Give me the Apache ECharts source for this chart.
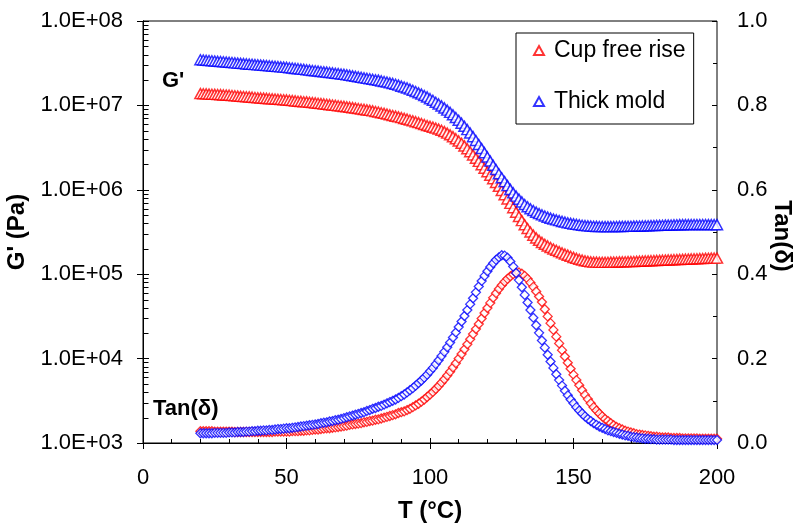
<!DOCTYPE html>
<html>
<head>
<meta charset="utf-8">
<script src="https://cdn.jsdelivr.net/npm/echarts@6/dist/echarts.min.js"></script>
<style>html,body{margin:0;padding:0;background:#fff}#c{width:798px;height:524px}</style>
</head>
<body>
<div id="c"></div>
<script>
// Temperature (°C)
const T = [
20,21,22,23,24,25,26,27,28,29,
30,31,32,33,34,35,36,37,38,39,
40,41,42,43,44,45,46,47,48,49,
50,51,52,53,54,55,56,57,58,59,
60,61,62,63,64,65,66,67,68,69,
70,71,72,73,74,75,76,77,78,79,
80,81,82,83,84,85,86,87,88,89,
90,91,92,93,94,95,96,97,98,99,
100,101,102,103,104,105,106,107,108,109,
110,111,112,113,114,115,116,117,118,119,
120,121,122,123,124,125,126,127,128,129,
130,131,132,133,134,135,136,137,138,139,
140,141,142,143,144,145,146,147,148,149,
150,151,152,153,154,155,156,157,158,159,
160,161,162,163,164,165,166,167,168,169,
170,171,172,173,174,175,176,177,178,179,
180,181,182,183,184,185,186,187,188,189,
190,191,192,193,194,195,196,197,198,199,
200];

// G' (Pa) - Cup free rise
const gCup = [
1.38e7,1.375e7,1.37e7,1.36e7,1.355e7,1.35e7,1.345e7,1.34e7,1.33e7,1.325e7,
1.32e7,1.31e7,1.30e7,1.29e7,1.28e7,1.275e7,1.265e7,1.26e7,1.25e7,1.24e7,
1.23e7,1.225e7,1.22e7,1.21e7,1.20e7,1.195e7,1.19e7,1.18e7,1.175e7,1.165e7,
1.16e7,1.15e7,1.14e7,1.13e7,1.12e7,1.115e7,1.105e7,1.10e7,1.09e7,1.08e7,
1.07e7,1.06e7,1.05e7,1.04e7,1.03e7,1.02e7,1.01e7,1.00e7,9.9e6,9.82e6,
9.72e6,9.62e6,9.52e6,9.4e6,9.3e6,9.19e6,9.07e6,8.96e6,8.84e6,8.73e6,
8.61e6,8.47e6,8.34e6,8.18e6,8.04e6,7.89e6,7.73e6,7.59e6,7.45e6,7.31e6,
7.16e6,7.01e6,6.87e6,6.71e6,6.56e6,6.41e6,6.25e6,6.10e6,5.93e6,5.77e6,
5.65e6,5.52e6,5.38e6,5.24e6,5.07e6,4.89e6,4.69e6,4.48e6,4.26e6,4.03e6,
3.79e6,3.56e6,3.31e6,3.06e6,2.82e6,2.59e6,2.37e6,2.17e6,1.98e6,1.80e6,
1.64e6,1.49e6,1.35e6,1.22e6,1.10e6,9.82e5,8.75e5,7.78e5,6.90e5,6.12e5,
5.43e5,4.83e5,4.31e5,3.85e5,3.48e5,3.16e5,2.90e5,2.69e5,2.52e5,2.38e5,
2.26e5,2.16e5,2.07e5,1.99e5,1.92e5,1.85e5,1.79e5,1.73e5,1.68e5,1.63e5,
1.58e5,1.54e5,1.50e5,1.47e5,1.44e5,1.42e5,1.40e5,1.39e5,1.39e5,1.38e5,
1.38e5,1.38e5,1.385e5,1.39e5,1.39e5,1.395e5,1.40e5,1.40e5,1.405e5,1.41e5,
1.41e5,1.415e5,1.42e5,1.425e5,1.43e5,1.435e5,1.44e5,1.445e5,1.45e5,1.455e5,
1.46e5,1.465e5,1.47e5,1.475e5,1.48e5,1.485e5,1.49e5,1.495e5,1.50e5,1.505e5,
1.51e5,1.515e5,1.52e5,1.525e5,1.53e5,1.535e5,1.54e5,1.545e5,1.55e5,1.55e5,
1.55e5];

// G' (Pa) - Thick mold
const gThick = [
3.47e7,3.45e7,3.42e7,3.40e7,3.38e7,3.36e7,3.33e7,3.31e7,3.29e7,3.26e7,
3.24e7,3.22e7,3.19e7,3.17e7,3.15e7,3.13e7,3.10e7,3.08e7,3.06e7,3.04e7,
3.02e7,3.0e7,2.98e7,2.96e7,2.94e7,2.92e7,2.90e7,2.88e7,2.86e7,2.84e7,
2.82e7,2.79e7,2.77e7,2.74e7,2.72e7,2.69e7,2.67e7,2.64e7,2.62e7,2.59e7,
2.57e7,2.55e7,2.52e7,2.50e7,2.48e7,2.45e7,2.43e7,2.40e7,2.38e7,2.35e7,
2.33e7,2.30e7,2.27e7,2.24e7,2.21e7,2.18e7,2.15e7,2.12e7,2.09e7,2.07e7,
2.04e7,2.01e7,1.99e7,1.95e7,1.92e7,1.89e7,1.85e7,1.82e7,1.78e7,1.74e7,
1.69e7,1.65e7,1.61e7,1.56e7,1.51e7,1.46e7,1.41e7,1.36e7,1.31e7,1.26e7,
1.20e7,1.15e7,1.09e7,1.04e7,9.86e6,9.33e6,8.79e6,8.26e6,7.73e6,7.19e6,
6.67e6,6.15e6,5.65e6,5.16e6,4.70e6,4.26e6,3.84e6,3.44e6,3.08e6,2.75e6,
2.45e6,2.19e6,1.95e6,1.74e6,1.55e6,1.39e6,1.25e6,1.12e6,1.01e6,9.20e5,
8.41e5,7.74e5,7.18e5,6.70e5,6.30e5,5.96e5,5.68e5,5.43e5,5.22e5,5.05e5,
4.89e5,4.74e5,4.61e5,4.50e5,4.40e5,4.31e5,4.22e5,4.14e5,4.06e5,4.00e5,
3.94e5,3.89e5,3.85e5,3.80e5,3.77e5,3.74e5,3.72e5,3.70e5,3.68e5,3.67e5,
3.66e5,3.66e5,3.66e5,3.66e5,3.67e5,3.67e5,3.68e5,3.68e5,3.69e5,3.69e5,
3.70e5,3.71e5,3.72e5,3.72e5,3.73e5,3.74e5,3.75e5,3.76e5,3.77e5,3.78e5,
3.79e5,3.80e5,3.81e5,3.82e5,3.83e5,3.84e5,3.85e5,3.86e5,3.86e5,3.87e5,
3.87e5,3.87e5,3.88e5,3.88e5,3.88e5,3.88e5,3.88e5,3.87e5,3.87e5,3.87e5,
3.86e5];

// Tan(delta) - Cup free rise
const tanCup = [
.028,.028,.028,.028,.028,.027,.027,.027,.027,.027,
.027,.027,.026,.026,.026,.026,.026,.026,.026,.026,
.026,.026,.026,.026,.026,.026,.027,.027,.027,.027,
.027,.027,.028,.028,.028,.029,.029,.030,.030,.031,
.032,.032,.033,.034,.035,.035,.036,.037,.038,.039,
.040,.041,.043,.044,.045,.046,.047,.049,.050,.052,
.053,.055,.056,.058,.060,.062,.064,.066,.068,.071,
.073,.075,.078,.081,.085,.089,.093,.098,.103,.109,
.115,.121,.128,.135,.143,.151,.160,.169,.179,.189,
.200,.211,.222,.234,.246,.258,.270,.282,.295,.308,
.320,.332,.344,.355,.365,.374,.382,.389,.395,.400,
.403,.404,.401,.396,.389,.380,.370,.359,.347,.334,
.317,.300,.284,.268,.252,.236,.220,.205,.190,.176,
.162,.149,.137,.125,.114,.104,.094,.085,.077,.070,
.063,.057,.052,.047,.042,.038,.035,.032,.029,.027,
.025,.023,.021,.020,.019,.018,.017,.016,.015,.015,
.014,.013,.013,.013,.012,.012,.012,.012,.011,.011,
.011,.011,.011,.011,.010,.010,.010,.010,.010,.010,
.010];

// Tan(delta) - Thick mold
const tanThick = [
.023,.023,.023,.023,.023,.024,.024,.024,.024,.024,
.025,.025,.025,.026,.026,.026,.027,.027,.028,.028,
.029,.029,.030,.030,.031,.031,.032,.033,.033,.034,
.035,.035,.036,.037,.038,.039,.040,.041,.042,.043,
.044,.045,.047,.048,.049,.051,.052,.054,.055,.057,
.059,.061,.063,.065,.067,.069,.071,.073,.076,.078,
.081,.083,.086,.088,.091,.094,.097,.100,.103,.107,
.111,.115,.120,.125,.130,.136,.142,.148,.155,.162,
.170,.178,.187,.196,.206,.216,.227,.238,.250,.262,
.275,.288,.301,.315,.329,.343,.357,.371,.384,.396,
.407,.417,.426,.434,.440,.445,.444,.439,.430,.418,
.403,.386,.369,.351,.333,.315,.297,.279,.261,.243,
.226,.209,.193,.178,.163,.149,.136,.124,.113,.103,
.094,.085,.077,.070,.063,.057,.052,.047,.043,.039,
.036,.033,.030,.028,.026,.024,.022,.020,.018,.017,
.015,.014,.013,.012,.011,.010,.010,.009,.009,.008,
.008,.008,.008,.008,.008,.007,.007,.007,.007,.007,
.007,.007,.007,.007,.007,.007,.007,.007,.007,.007,
.007];

// Minor tick values on the log G' axis
const logMinorTicks = [
2e3,3e3,4e3,5e3,6e3,7e3,8e3,9e3,
2e4,3e4,4e4,5e4,6e4,7e4,8e4,9e4,
2e5,3e5,4e5,5e5,6e5,7e5,8e5,9e5,
2e6,3e6,4e6,5e6,6e6,7e6,8e6,9e6,
2e7,3e7,4e7,5e7,6e7,7e7,8e7,9e7];

const seriesNames = ['Cup free rise', 'Thick mold'];
const FONT = "'Liberation Sans', Arial, Helvetica, sans-serif";
const RED = '#ff0000', BLUE = '#0000ff';

function pairs(xs, ys) { return xs.map((x, i) => [x, ys[i]]); }

const chart = echarts.init(document.getElementById('c'), null, {renderer: 'canvas'});
const black = {color: '#000', width: 1};
const tickFont = {color: '#000', fontSize: 22, fontFamily: FONT};
const titleFont = {color: '#000', fontSize: 24, fontWeight: 'bold', fontFamily: FONT};

const option = {
  animation: false,
  backgroundColor: '#fff',
  grid: {left: 143, right: 81, top: 21, bottom: 81, show: true, borderColor: '#000', borderWidth: 1,
         containLabel: false, outerBoundsMode: 'none'},
  legend: {
    data: seriesNames,
    orient: 'vertical',
    left: 516, top: 33,
    itemWidth: 10, itemHeight: 9,
    itemGap: 28,
    padding: [6, 8, 11, 17],
    backgroundColor: '#fff',
    borderColor: '#000', borderWidth: 1,
    textStyle: {color: '#000', fontSize: 23, fontFamily: FONT, padding: [0, 0, 0, 5]}
  },
  xAxis: [
    {type: 'value', min: 0, max: 200, interval: 50, position: 'bottom',
     axisLine: {lineStyle: black}, axisTick: {inside: false, length: 6, lineStyle: black},
     axisLabel: Object.assign({margin: 24}, tickFont), splitLine: {show: false},
     name: 'T (°C)', nameLocation: 'middle', nameGap: 56, nameTextStyle: titleFont},
    {type: 'value', min: 0, max: 200, interval: 50, position: 'bottom',
     axisLine: {show: false}, axisTick: {inside: true, length: 5, lineStyle: black},
     minorTick: {show: true, splitNumber: 5, length: 4, lineStyle: black},
     axisLabel: {show: false}, splitLine: {show: false}}
  ],
  yAxis: [
    {type: 'log', logBase: 10, min: 1e3, max: 1e8, splitNumber: 5, position: 'left',
     axisLine: {show: true, lineStyle: black}, axisTick: {inside: false, length: 6, lineStyle: black},
     axisLabel: Object.assign({margin: 20, formatter: v => '1.0E+' + String(Math.round(Math.log10(v))).padStart(2, '0')}, tickFont),
     splitLine: {show: false},
     name: "G' (Pa)", nameLocation: 'middle', nameRotate: 90, nameGap: 106, nameTextStyle: titleFont},
    {type: 'value', min: 0, max: 1, interval: 0.2, position: 'right',
     axisLine: {show: true, lineStyle: black}, axisTick: {inside: false, length: 6, lineStyle: black},
     axisLabel: Object.assign({margin: 20, formatter: v => v.toFixed(1)}, tickFont),
     splitLine: {show: false}},
    {type: 'log', logBase: 10, min: 1e3, max: 1e8, splitNumber: 5, position: 'left',
     axisLine: {show: false}, axisTick: {inside: true, length: 5, lineStyle: black},
     axisLabel: {show: false}, splitLine: {show: false}},
    {type: 'value', min: 0, max: 1, interval: 0.2, position: 'right',
     axisLine: {show: false}, axisTick: {inside: true, length: 5, lineStyle: black},
     minorTick: {show: true, splitNumber: 2, length: 4, lineStyle: black},
     axisLabel: {show: false}, splitLine: {show: false}}
  ],
  graphic: [
    {type: 'text', left: 162, top: 70, z: 100, style: {text: "G'", fill: '#000', font: 'bold 22px ' + FONT}},
    {type: 'text', left: 153, top: 398, z: 100, style: {text: 'Tan(δ)', fill: '#000', font: 'bold 22px ' + FONT}},
    {type: 'text', x: 782, y: 236, rotation: -Math.PI / 2, z: 100,
     style: {text: 'Tan(δ)', fill: '#000', font: 'bold 24px ' + FONT, align: 'center', verticalAlign: 'middle'}}
  ],
  series: [
    {type: 'custom', xAxisIndex: 0, yAxisIndex: 0, silent: true, clip: false, z: 1,
     data: logMinorTicks.map(v => [0, v]),
     renderItem: function (params, api) {
       const p = api.coord([0, api.value(1)]);
       const y = Math.round(p[1]) + 0.5;
       const x = Math.round(p[0]) + 0.5;
       return {type: 'line', shape: {x1: x, y1: y, x2: x + 5, y2: y}, style: {stroke: '#000', lineWidth: 1}};
     }},
    {name: seriesNames[0], type: 'scatter', xAxisIndex: 0, yAxisIndex: 0, data: pairs(T, gCup),
     symbol: 'triangle', symbolSize: [11, 10], itemStyle: {color: '#fff', borderColor: RED, borderWidth: 1.5}, z: 2},
    {name: seriesNames[1], type: 'scatter', xAxisIndex: 0, yAxisIndex: 0, data: pairs(T, gThick),
     symbol: 'triangle', symbolSize: [11, 10], itemStyle: {color: '#fff', borderColor: BLUE, borderWidth: 1.5}, z: 2},
    {name: 'tan-cup', type: 'scatter', xAxisIndex: 0, yAxisIndex: 1, data: pairs(T, tanCup),
     symbol: 'diamond', symbolSize: [9, 9], itemStyle: {color: '#fff', borderColor: RED, borderWidth: 1.3}, z: 2},
    {name: 'tan-thick', type: 'scatter', xAxisIndex: 0, yAxisIndex: 1, data: pairs(T, tanThick),
     symbol: 'diamond', symbolSize: [9, 9], itemStyle: {color: '#fff', borderColor: BLUE, borderWidth: 1.3}, z: 2}
  ]
};
chart.setOption(option);
</script>
</body>
</html>
